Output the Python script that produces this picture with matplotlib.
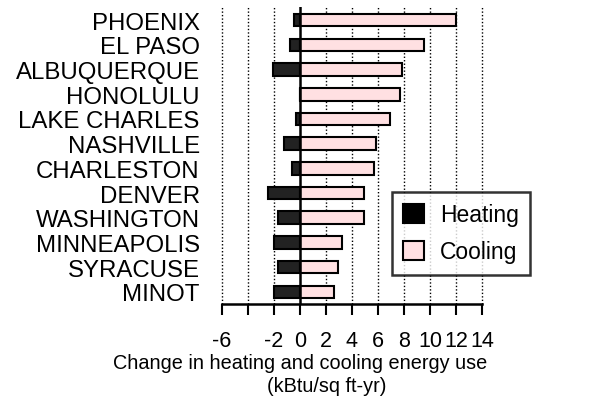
import matplotlib
matplotlib.use("Agg")
import matplotlib.pyplot as plt
from matplotlib.patches import Patch

plt.rcParams['font.family'] = ['Liberation Sans', 'DejaVu Sans']

cities = ["PHOENIX", "EL PASO", "ALBUQUERQUE", "HONOLULU", "LAKE CHARLES",
          "NASHVILLE", "CHARLESTON", "DENVER", "WASHINGTON", "MINNEAPOLIS",
          "SYRACUSE", "MINOT"]
heating = [-0.46, -0.77, -2.05, 0.0, -0.33, -1.23, -0.64, -2.49, -1.72, -2.03, -1.72, -2.03]
cooling = [12.0, 9.56, 7.85, 7.7, 6.92, 5.82, 5.67, 4.92, 4.92, 3.26, 2.92, 2.62]
xticks = [-6, -4, -2, 0, 2, 4, 6, 8, 10, 12, 14]
xticklabels = ["-6", "", "-2", "0", "2", "4", "6", "8", "10", "12", "14"]
xlabel_lines = ["Change in heating and cooling energy use", "(kBtu/sq ft-yr)"]

fig = plt.figure(figsize=(5.93, 4.02), dpi=100)
ax = fig.add_axes([222/593, 1-305/402, 260/593, 297/402])

pos = list(range(len(cities)))
for x in xticks:
    if x != 0:
        ax.axvline(x, color='black', ls=(0, (1, 1.5)), lw=1.0, zorder=0, clip_on=False)
ax.barh(pos, heating, height=0.51, color='#222222', edgecolor='black', lw=1.5, zorder=2)
ax.barh(pos, cooling, height=0.51, color='#ffe0e2', edgecolor='black', lw=1.5, zorder=2)
ax.axvline(0, color='black', lw=1.8, zorder=3)

ax.set_xlim(-6, 14)
ax.set_ylim(11.49, -0.53)
ax.set_yticks(pos)
ax.set_yticklabels(cities, fontsize=17.3)
ax.tick_params(axis='y', length=0, pad=16)
ax.set_xticks(xticks)
ax.set_xticklabels(xticklabels, fontsize=15.5)
ax.tick_params(axis='x', length=8, width=1.5, pad=10.5, direction='out')
for s in ['top', 'right', 'left']:
    ax.spines[s].set_visible(False)
ax.spines['bottom'].set_linewidth(1.8)

fig.text(300/593, 1-364/402, xlabel_lines[0], ha='center', va='center', fontsize=14.3)
fig.text(327/593, 1-387/402, xlabel_lines[1], ha='center', va='center', fontsize=14.3)

handles = [Patch(facecolor='black', edgecolor='black', lw=1.5, label='Heating'),
           Patch(facecolor='#ffe0e2', edgecolor='black', lw=1.5, label='Cooling')]
leg = ax.legend(handles=handles, loc='upper left', bbox_to_anchor=(392/593, 1-193/402),
                bbox_transform=fig.transFigure, fontsize=16.5, frameon=True, fancybox=False,
                handlelength=0.9, handleheight=0.9, borderpad=0.5, labelspacing=0.6,
                handletextpad=0.7, borderaxespad=0)
leg.get_frame().set_edgecolor('black')
leg.get_frame().set_linewidth(1.8)

fig.savefig("out.png", dpi=100)
